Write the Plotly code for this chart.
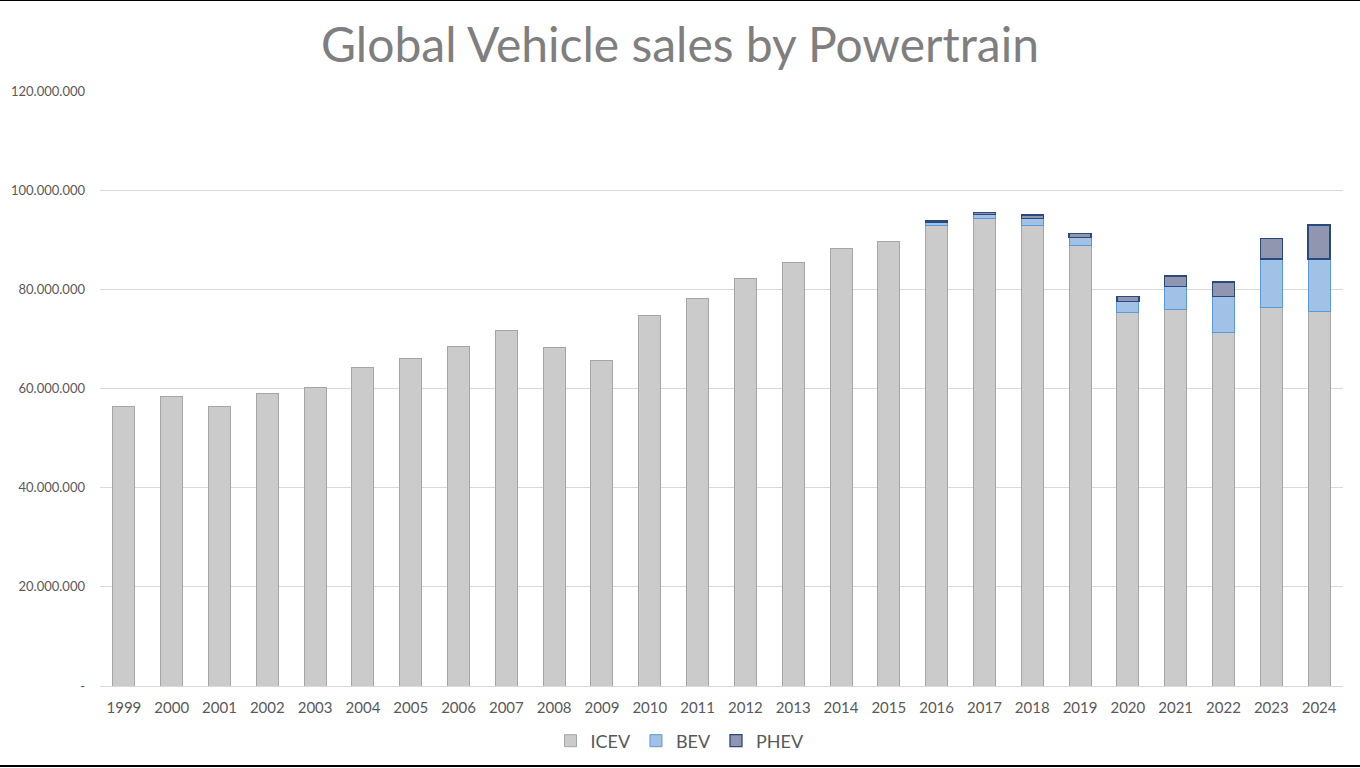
import plotly.graph_objects as go

years = [str(y) for y in range(1999, 2025)]
icev = [56.3, 58.3, 56.3, 58.9, 60.3, 64.3, 66.0, 68.4, 71.6, 68.2, 65.6, 74.8, 78.1, 82.1,
        85.5, 88.3, 89.6, 92.9, 94.3, 92.9, 88.9, 75.4, 76.0, 71.3, 76.4, 75.6]
bev = [None] * 17 + [0.6, 0.8, 1.4, 1.6, 2.2, 4.6, 7.3, 9.7, 10.5]
phev = [None] * 17 + [0.3, 0.4, 0.7, 0.7, 1.0, 2.1, 2.9, 4.2, 6.9]


def scale(vals):
    return [None if v is None else v * 1e6 for v in vals]


ytick_vals = [0, 20e6, 40e6, 60e6, 80e6, 100e6, 120e6]
ytick_text = ["-", "20.000.000", "40.000.000", "60.000.000", "80.000.000", "100.000.000", "120.000.000"]

font_family = "Lato, 'Open Sans', sans-serif"
grey = "#595959"

fig = go.Figure()
fig.add_trace(go.Bar(x=years, y=scale(icev), name="ICEV",
                     marker=dict(color="#cbcbcb", line=dict(color="#a5a5a5", width=1))))
fig.add_trace(go.Bar(x=years, y=scale(bev), name="BEV",
                     marker=dict(color="#a2c1e6", line=dict(color="#5b9bd5", width=1))))
fig.add_trace(go.Bar(x=years, y=scale(phev), name="PHEV",
                     marker=dict(color="#9096b0", line=dict(color="#2a4a7f", width=1.3))))

H = 595.0
W = 1243.0
shapes = [
    dict(type="line", xref="paper", yref="paper", x0=-100 / W, x1=1 + 17 / W,
         y0=1 + 91 / H, y1=1 + 91 / H, line=dict(color="black", width=2)),
    dict(type="line", xref="paper", yref="paper", x0=-100 / W, x1=1 + 17 / W,
         y0=-(80 / H), y1=-(80 / H), line=dict(color="black", width=2)),
]

fig.update_layout(
    width=1360,
    height=768,
    autosize=False,
    barmode="stack",
    bargap=0.54,
    paper_bgcolor="white",
    plot_bgcolor="white",
    margin=dict(l=100, r=17, t=91, b=82, autoexpand=False),
    title=dict(text="Global Vehicle sales by Powertrain", x=0.5, xref="container",
               y=1 - 45 / 768, yref="container", xanchor="center", yanchor="middle",
               font=dict(family=font_family, size=48, color="#7f7f7f")),
    font=dict(family=font_family, color=grey),
    xaxis=dict(type="category", showgrid=False, showline=True, linecolor="#d9d9d9",
               tickfont=dict(size=15, color=grey), ticks="", ticklabelstandoff=8,
               automargin=False),
    yaxis=dict(range=[0, 120e6], tickvals=ytick_vals, ticktext=ytick_text,
               showgrid=True, gridcolor="#d9d9d9", zeroline=False, showline=False,
               tickfont=dict(size=13, color=grey), ticklabelstandoff=14,
               automargin=False),
    legend=dict(orientation="h", xref="container", yref="container", x=0.5,
                xanchor="center", y=1 - 741 / 768, yanchor="middle",
                bgcolor="rgba(0,0,0,0)",
                font=dict(size=18, color=grey), traceorder="normal"),
    shapes=shapes,
    showlegend=True,
)

fig.write_html(
    "out.html",
    config={"displayModeBar": False},
    post_script="document.body.style.margin='0';document.body.style.padding='0';"
                "document.body.style.overflow='hidden';"
                "document.documentElement.style.overflow='hidden';",
)
